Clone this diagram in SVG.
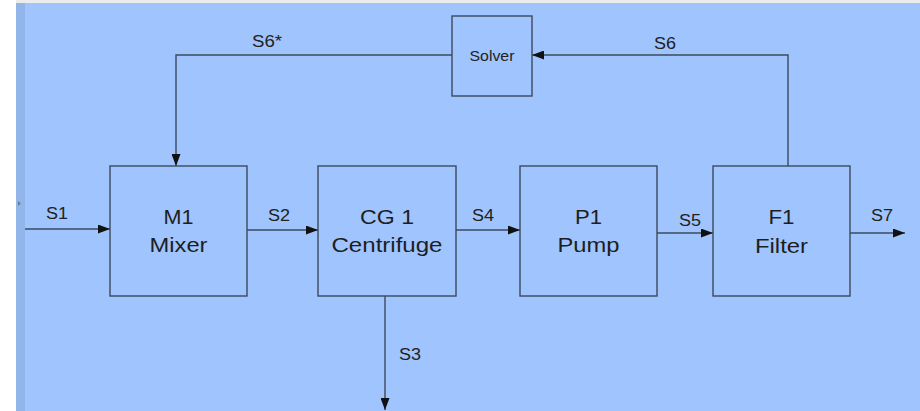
<svg xmlns="http://www.w3.org/2000/svg" width="920" height="411" viewBox="0 0 920 411">
<style>
.box{fill:#a0c4fd;stroke:#3d4a5c;stroke-width:1.4}
.ln{fill:none;stroke:#3d4a5c;stroke-width:1.4}
.lbl{font-family:"Liberation Sans",Arial,sans-serif;font-size:16px;fill:#222;text-anchor:middle}
.nt{font-family:"Liberation Sans",Arial,sans-serif;font-size:20px;fill:#1e1e1e;text-anchor:middle}
.st{font-family:"Liberation Sans",Arial,sans-serif;font-size:15px;fill:#222;text-anchor:middle}
</style>
<defs>
<marker id="ah" markerWidth="12" markerHeight="9" refX="12" refY="4.5" orient="auto" markerUnits="userSpaceOnUse">
<path d="M0,0 L12,4.5 L0,9 z" fill="#111"/>
</marker>
</defs>
<rect x="0" y="0" width="920" height="411" fill="#ffffff"/>
<rect x="16" y="0" width="904" height="3" fill="#ececec"/>
<rect x="16" y="3" width="904" height="408" fill="#a0c4fd"/>
<rect x="16" y="3" width="9" height="408" fill="#93b6ea"/>
<path d="M18,201 L21,203.5 L18,206 z" fill="#6b7c94"/>
<g id="connectors">
<path class="ln" d="M25,229 H110" marker-end="url(#ah)"/>
<path class="ln" d="M247,230 H318" marker-end="url(#ah)"/>
<path class="ln" d="M456,230 H520" marker-end="url(#ah)"/>
<path class="ln" d="M657,233 H713" marker-end="url(#ah)"/>
<path class="ln" d="M850,233 H905" marker-end="url(#ah)"/>
<path class="ln" d="M385,296 V410" marker-end="url(#ah)"/>
<path class="ln" d="M788,166 V55 H532" marker-end="url(#ah)"/>
<path class="ln" d="M452,55 H176 V166" marker-end="url(#ah)"/>
<text class="lbl" x="57" y="219" textLength="22" lengthAdjust="spacingAndGlyphs">S1</text>
<text class="lbl" x="279" y="221" textLength="22" lengthAdjust="spacingAndGlyphs">S2</text>
<text class="lbl" x="483" y="221" textLength="22" lengthAdjust="spacingAndGlyphs">S4</text>
<text class="lbl" x="690" y="226" textLength="22" lengthAdjust="spacingAndGlyphs">S5</text>
<text class="lbl" x="882" y="221" textLength="22" lengthAdjust="spacingAndGlyphs">S7</text>
<text class="lbl" x="410" y="360" textLength="22" lengthAdjust="spacingAndGlyphs">S3</text>
<text class="lbl" x="665" y="49" textLength="22" lengthAdjust="spacingAndGlyphs">S6</text>
<text class="lbl" x="267" y="47" textLength="30" lengthAdjust="spacingAndGlyphs">S6*</text>
</g>
<g id="mixer">
<rect class="box" x="110" y="166" width="137" height="130"/>
<text class="nt" x="178.5" y="224" textLength="30" lengthAdjust="spacingAndGlyphs">M1</text>
<text class="nt" x="178.5" y="252" textLength="58" lengthAdjust="spacingAndGlyphs">Mixer</text>
</g>
<g id="centrifuge">
<rect class="box" x="318" y="166" width="138" height="130"/>
<text class="nt" x="387" y="224" textLength="54" lengthAdjust="spacingAndGlyphs">CG 1</text>
<text class="nt" x="387" y="252" textLength="111" lengthAdjust="spacingAndGlyphs">Centrifuge</text>
</g>
<g id="pump">
<rect class="box" x="520" y="166" width="137" height="130"/>
<text class="nt" x="588.5" y="224" textLength="27" lengthAdjust="spacingAndGlyphs">P1</text>
<text class="nt" x="588.5" y="252" textLength="62" lengthAdjust="spacingAndGlyphs">Pump</text>
</g>
<g id="filter">
<rect class="box" x="713" y="166" width="137" height="130"/>
<text class="nt" x="781.5" y="224" textLength="26" lengthAdjust="spacingAndGlyphs">F1</text>
<text class="nt" x="781.5" y="253" textLength="53" lengthAdjust="spacingAndGlyphs">Filter</text>
</g>
<g id="solver">
<rect class="box" x="452" y="16" width="80" height="80"/>
<text class="st" x="492" y="61" textLength="45" lengthAdjust="spacingAndGlyphs">Solver</text>
</g>
</svg>
